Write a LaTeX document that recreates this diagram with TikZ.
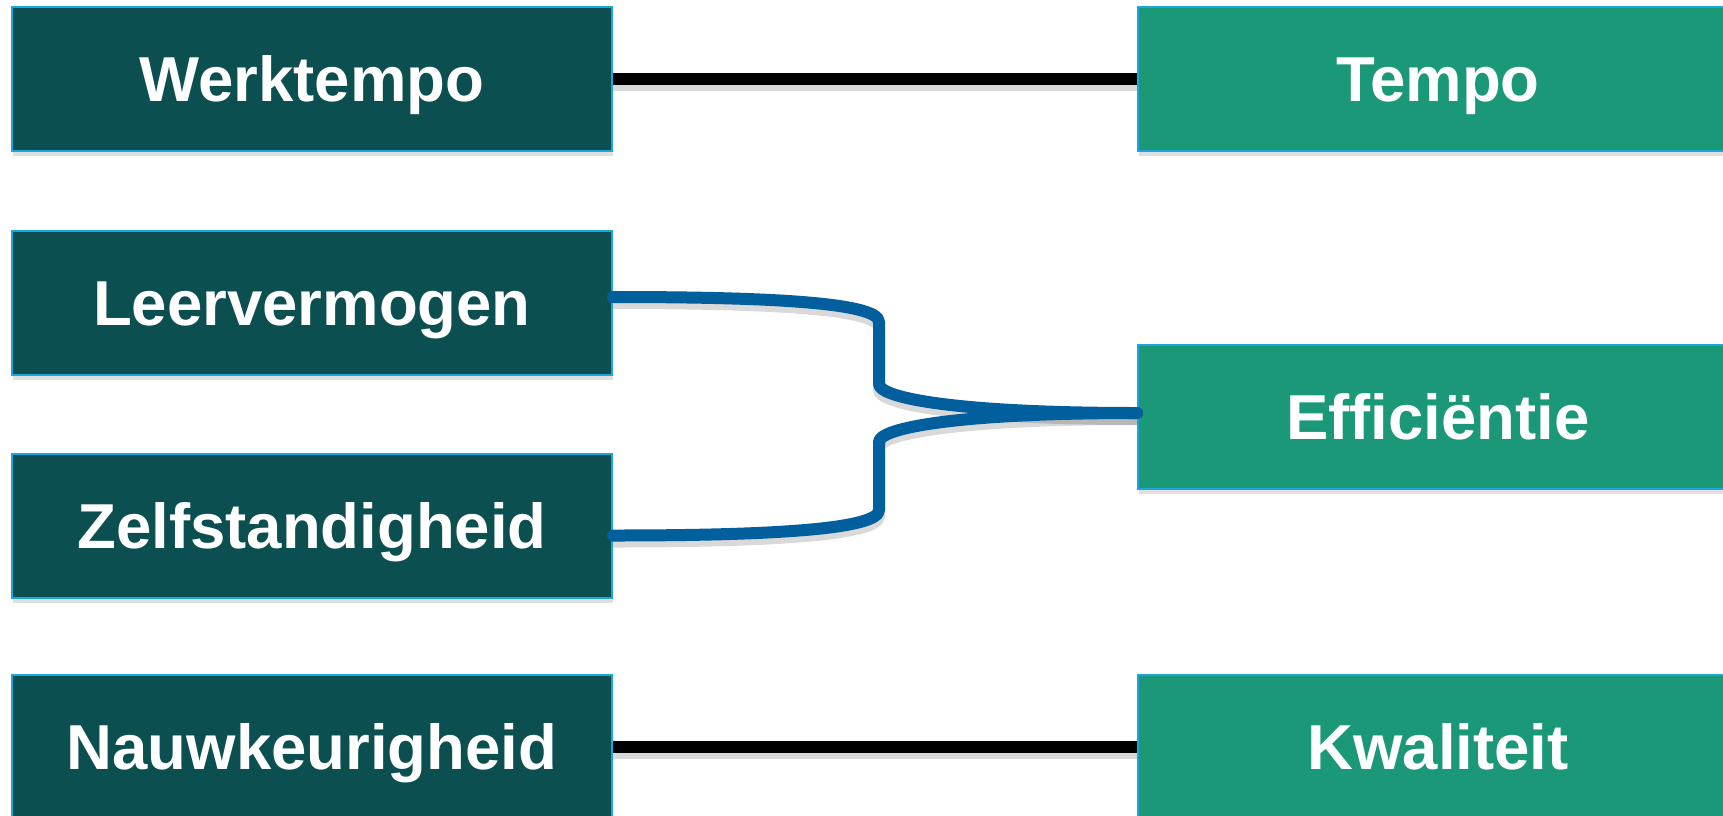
\documentclass[tikz,border=0pt]{standalone}
\usepackage{fontspec}
\setmainfont{Liberation Sans}
\usetikzlibrary{shadows,calc}
\definecolor{darkteal}{HTML}{0C4F50}
\definecolor{lightteal}{HTML}{1B9878}
\definecolor{boxline}{HTML}{1BA6E0}
\definecolor{linkblue}{HTML}{005F9C}
\tikzset{
  box/.style={draw=boxline, line width=1pt, minimum width=300pt, minimum height=72pt, inner sep=0pt,
    text height=22.7pt, text depth=0pt,
    text=white, font=\fontsize{31.75}{38}\selectfont\bfseries,
    drop shadow={shadow xshift=0.5pt, shadow yshift=-2.5pt, opacity=0.25}},
  leftbox/.style={box, fill=darkteal},
  rightbox/.style={box, fill=lightteal},
  lineshadow/.style={preaction={draw=black, opacity=0.15, line width=6pt, transform canvas={yshift=-3pt}}},
  link/.style={line width=6pt, lineshadow},
  bluelink/.style={link, draw=linkblue, line cap=round, line join=round},
}
\begin{document}
\begin{tikzpicture}[x=0.5pt,y=-0.5pt]
\useasboundingbox (0,0) rectangle (1723,815);
\clip (0,0) rectangle (1723,815);
\fill[white] (0,0) rectangle (1723,815);
\node[leftbox] (werk) at (312,78.5) {Werktempo};
\node[leftbox] (leer) at (312,303) {Leervermogen};
\node[leftbox] (zelf) at (312,525.5) {Zelfstandigheid};
\node[leftbox] (nauw) at (312,747) {Nauwkeurigheid};
\node[rightbox] (tempo) at (1438,78.5) {Tempo};
\node[rightbox] (eff) at (1438,417) {Efficiëntie};
\node[rightbox] (kwal) at (1438,747) {Kwaliteit};
\coordinate (fork) at (879,413);
\draw[link] (werk.east) -- (tempo.west);
\draw[link] (nauw.east) -- (kwal.west);
\draw[bluelink] ([yshift=3pt]leer.east) .. controls +(150,0) and +(0,-20) .. ($(fork)+(0,-91)$)
  -- ($(fork)+(0,-29)$) .. controls +(0,14) and +(-180,0) .. ([yshift=2pt]eff.west);
\draw[bluelink] ([yshift=-5pt]zelf.east) .. controls +(150,0) and +(0,20) .. ($(fork)+(0,97)$)
  -- ($(fork)+(0,29)$) .. controls +(0,-14) and +(-180,0) .. ([yshift=2pt]eff.west);
\end{tikzpicture}
\end{document}
